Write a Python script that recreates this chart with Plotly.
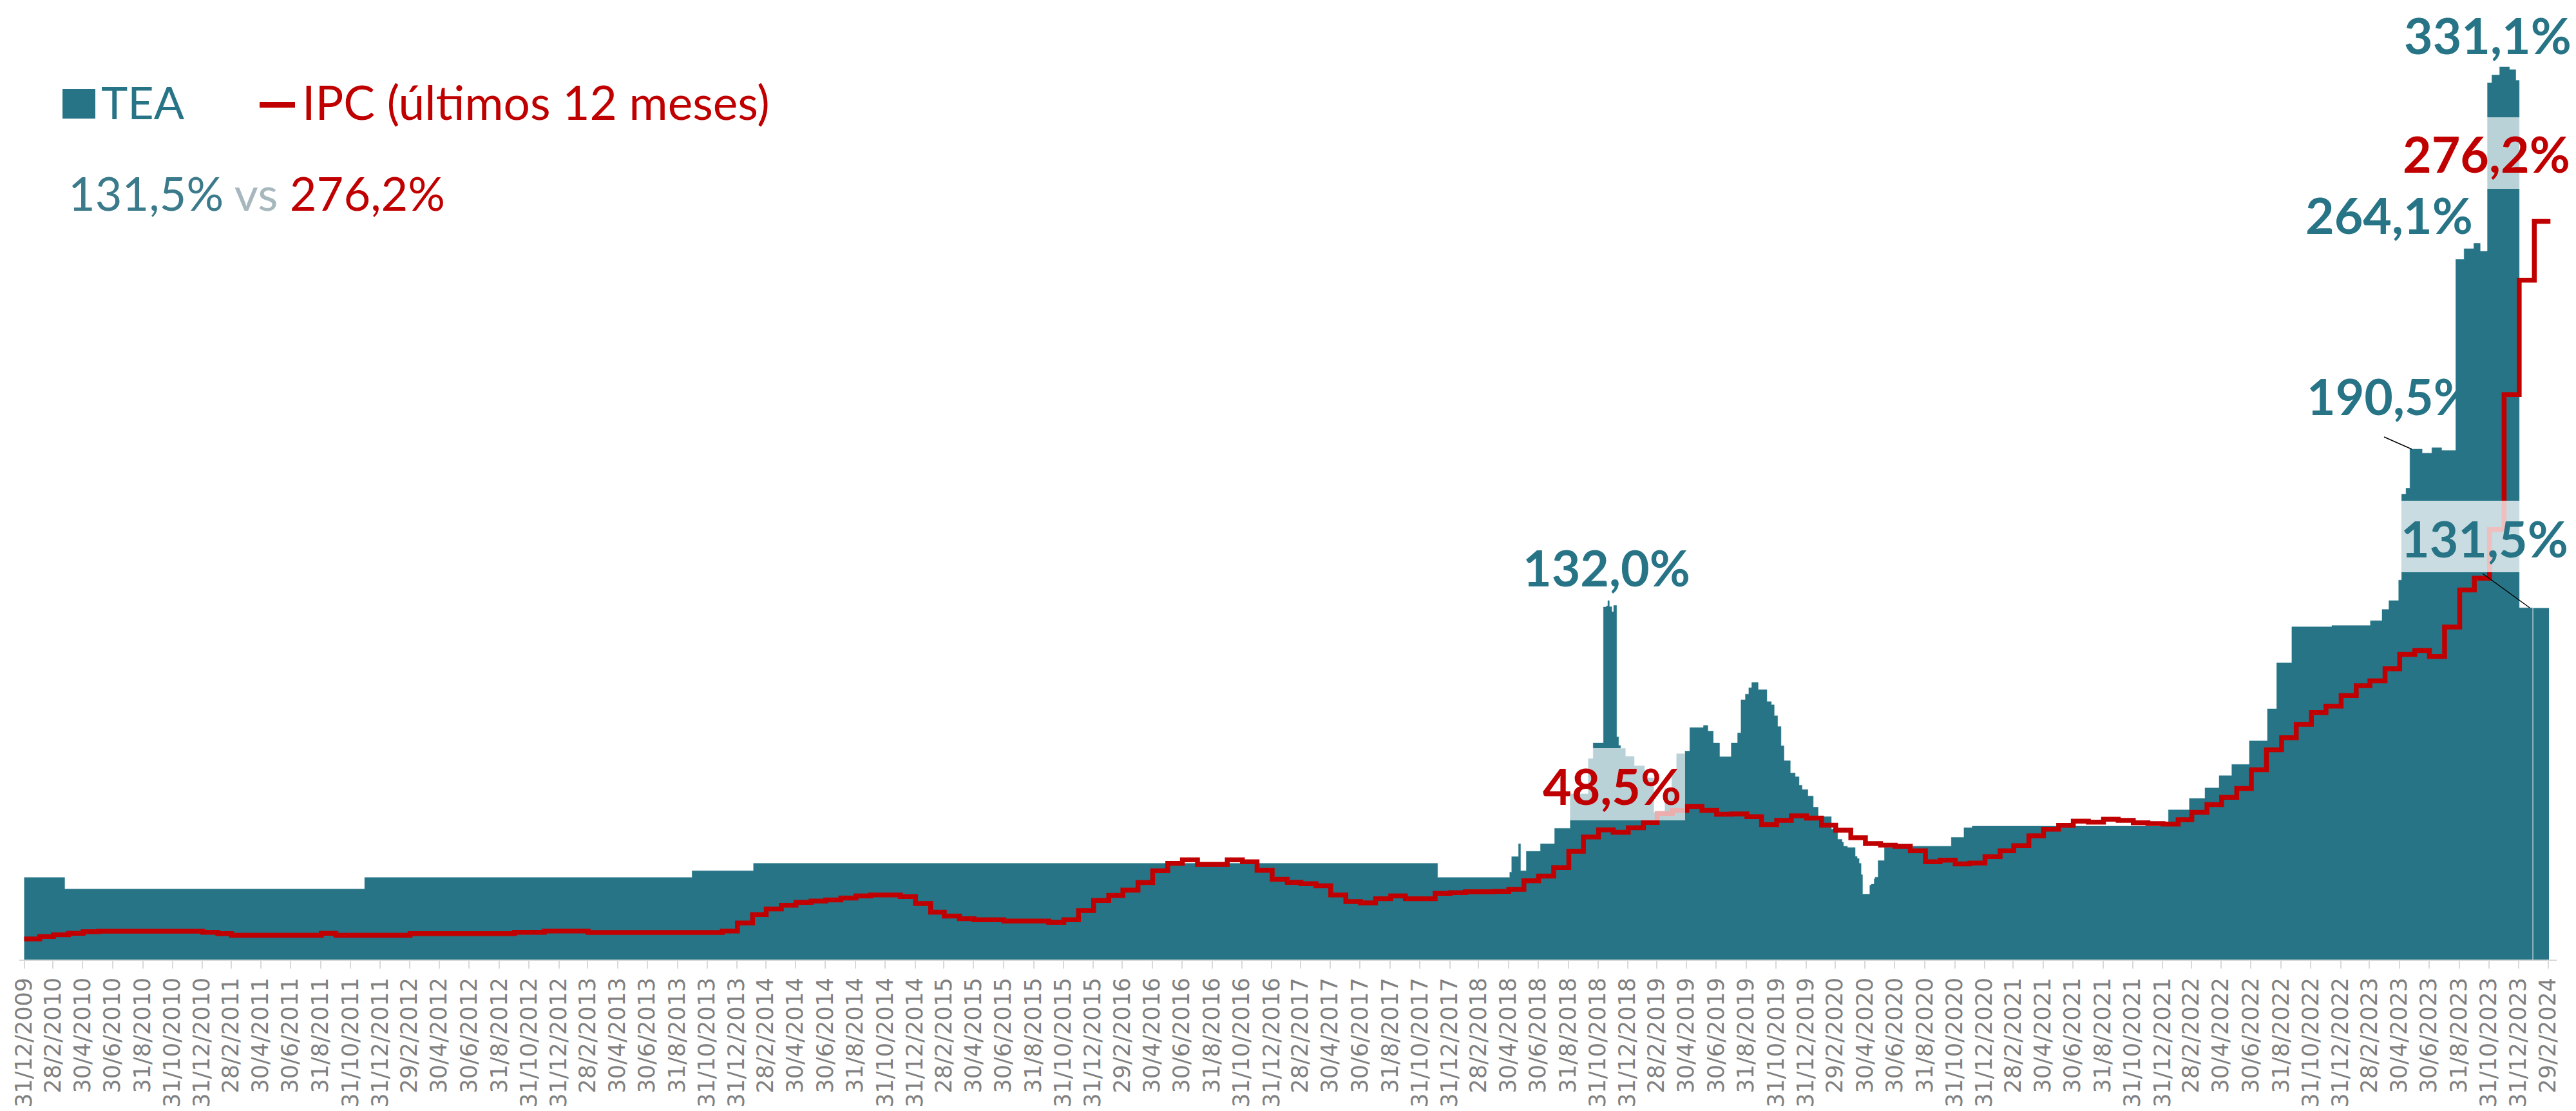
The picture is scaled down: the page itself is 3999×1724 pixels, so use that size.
import pandas as pd
import plotly.graph_objects as go

TEAL = "#267486"
TEAL_SOFT = "#3b7a8a"
RED = "#c00000"
GREY_TXT = "#808080"
GREY_AXIS = "#d9d9d9"

# TEA diaria, tomada como escalones (fecha de cambio, valor %)
TEA_FECHAS = [
    "2009-12-31", "2010-03-24", "2011-11-29", "2013-09-30", "2014-02-03",
    "2017-12-06", "2018-05-03", "2018-05-07", "2018-05-21", "2018-05-25",
    "2018-06-06", "2018-07-05", "2018-08-03", "2018-09-04", "2018-10-11",
    "2018-10-21", "2018-11-11", "2018-11-17", "2018-11-20", "2018-11-23",
    "2018-11-28", "2018-12-02", "2018-12-08", "2018-12-12", "2018-12-16",
    "2018-12-26", "2019-01-13", "2019-02-03", "2019-02-22", "2019-03-17",
    "2019-03-31", "2019-04-10", "2019-04-27", "2019-05-07", "2019-06-04",
    "2019-06-13", "2019-06-24", "2019-07-07", "2019-07-31", "2019-08-13",
    "2019-08-20", "2019-08-29", "2019-09-05", "2019-09-11", "2019-09-24",
    "2019-10-12", "2019-10-21", "2019-10-27", "2019-11-03", "2019-11-10",
    "2019-11-16", "2019-11-29", "2019-12-09", "2019-12-17", "2019-12-23",
    "2020-01-04", "2020-01-15", "2020-01-25", "2020-02-21", "2020-03-05",
    "2020-03-14", "2020-03-17", "2020-03-25", "2020-04-10", "2020-04-14",
    "2020-04-18", "2020-04-22", "2020-04-25", "2020-05-10", "2020-05-13",
    "2020-05-19", "2020-05-21", "2020-05-27", "2020-06-09", "2020-08-06",
    "2020-10-24", "2020-11-19", "2020-12-06", "2022-01-12", "2022-02-24",
    "2022-03-28", "2022-04-26", "2022-05-22", "2022-06-27", "2022-08-03",
    "2022-08-22", "2022-09-22", "2022-12-13", "2023-03-02", "2023-03-26",
    "2023-04-09", "2023-04-29", "2023-05-05", "2023-05-14", "2023-05-22",
    "2023-06-16", "2023-07-06", "2023-07-26", "2023-08-24", "2023-09-10",
    "2023-09-30", "2023-10-13", "2023-10-28", "2023-11-06", "2023-11-22",
    "2023-12-12", "2023-12-25", "2024-01-01", "2024-01-28", "2024-01-30",
    "2024-03-02",
]
TEA_VALORES = [
    30.7, 26.4, 30.7, 33.2, 36.0,
    30.7, 32.7, 38.5, 43.3, 33.2,
    40.5, 43.3, 49.1, 62.0, 75.2,
    81.0, 131.9, 132.3, 134.3, 132.0,
    130.1, 132.5, 83.3, 80.1, 79.0,
    76.0, 72.5, 68.0, 55.0, 64.0,
    71.0, 77.0, 78.0, 86.8, 87.6,
    85.5, 81.0, 75.9, 81.0, 84.8,
    97.2, 99.3, 101.7, 103.7, 101.0,
    96.5, 95.3, 91.2, 87.2, 80.0,
    74.4, 69.8, 68.4, 65.2, 63.6,
    61.2, 57.0, 53.5, 48.8, 45.0,
    43.9, 42.4, 41.9, 38.6, 37.8,
    36.0, 31.8, 24.5, 27.8, 28.2,
    30.2, 30.8, 37.0, 41.9, 42.4,
    45.7, 49.3, 49.9, 56.0, 60.3,
    64.2, 68.8, 73.0, 81.8, 93.8,
    111.0, 124.5, 125.0, 126.8, 131.0,
    134.3, 142.0, 174.1, 176.4, 191.0,
    189.5, 191.5, 190.5, 262.0, 266.0,
    268.0, 265.0, 328.0, 331.0, 334.0,
    333.0, 329.0, 131.6, 0.0, 131.5,
    131.5,
]

# IPC interanual, un valor por mes (ene-2010 ... feb-2024)
IPC_2010 = [7.7, 8.6, 9.3, 9.8, 10.4, 10.6, 10.6, 10.6, 10.6, 10.6, 10.6, 10.6]
IPC_2011 = [10.2, 9.7, 9.1, 9.1, 9.1, 9.1, 9.1, 9.1, 9.8, 9.1, 9.1, 9.1]
IPC_2012 = [9.1, 9.1, 9.7, 9.7, 9.7, 9.7, 9.7, 9.7, 9.7, 10.2, 10.2, 10.7]
IPC_2013 = [10.7, 10.7, 10.1, 10.1, 10.1, 10.1, 10.1, 10.1, 10.1, 10.1, 10.1, 10.7]
IPC_2014 = [13.7, 16.8, 18.9, 20.3, 21.4, 21.9, 22.3, 23.0, 23.8, 24.2, 24.2, 23.6]
IPC_2015 = [21.0, 17.7, 16.3, 15.3, 14.9, 14.9, 14.4, 14.4, 14.4, 13.9, 14.9, 18.3]
IPC_2016 = [22.1, 24.0, 26.0, 28.8, 33.2, 36.0, 37.3, 35.6, 35.6, 37.3, 36.6, 33.4]
IPC_2017 = [30.0, 28.9, 28.4, 27.6, 24.2, 21.7, 21.2, 22.8, 23.8, 22.8, 22.8, 24.8]
IPC_2018 = [25.0, 25.4, 25.4, 25.5, 26.3, 29.5, 31.2, 34.4, 40.5, 45.9, 48.5, 47.6]
IPC_2019 = [49.3, 51.3, 54.7, 55.8, 57.3, 55.8, 54.4, 54.5, 53.5, 50.5, 52.1, 53.8]
IPC_2020 = [52.9, 50.3, 48.4, 45.6, 43.4, 42.8, 42.4, 40.7, 36.6, 37.2, 35.8, 36.1]
IPC_2021 = [38.5, 40.7, 42.6, 46.3, 48.8, 50.2, 51.8, 51.4, 52.5, 52.1, 51.2, 50.9]
IPC_2022 = [50.7, 52.3, 55.1, 58.0, 60.7, 64.0, 71.0, 78.5, 83.0, 88.0, 92.4, 94.8]
IPC_2023 = [98.8, 102.5, 104.3, 108.8, 114.2, 115.6, 113.4, 124.4, 138.3, 142.7, 160.9, 211.4]
IPC_2024 = [254.2, 276.2]
IPC_MESES = pd.date_range("2010-01-01", "2024-02-01", freq="MS")
IPC_INICIO = "2009-12-31"
IPC_FIN = "2024-03-05"

# ejes: fin de mes cada dos meses
TICK_FECHAS = pd.date_range("2010-01-01", "2024-03-01", freq="2MS") - pd.Timedelta(days=1)
TICK_TEXTOS = [f"{d.day}/{d.month}/{d.year}" for d in TICK_FECHAS]

ipc_valores = (IPC_2010 + IPC_2011 + IPC_2012 + IPC_2013 + IPC_2014 + IPC_2015
               + IPC_2016 + IPC_2017 + IPC_2018 + IPC_2019 + IPC_2020 + IPC_2021
               + IPC_2022 + IPC_2023 + IPC_2024)
ipc_x = [IPC_INICIO] + [d.strftime("%Y-%m-%d") for d in IPC_MESES] + [IPC_FIN]
ipc_y = [ipc_valores[0]] + ipc_valores + [ipc_valores[-1]]

W, H = 3999, 1724
L, R, T, B = 30, 30, 20, 235
PW, PH = W - L - R, H - T - B


def px(x):
    return (x - L) / PW


def py(y):
    return (H - B - y) / PH


fig = go.Figure()

# etiqueta que queda detras de las barras
fig.add_trace(go.Scatter(
    x=["2023-04-12"], y=[208.3], mode="text", text=["<b>190,5%</b>"],
    textposition="middle center",
    textfont=dict(family="Lato", size=77, color=TEAL),
    hoverinfo="skip", showlegend=False,
))

fig.add_trace(go.Scatter(
    x=TEA_FECHAS, y=TEA_VALORES, name="TEA", mode="lines",
    line=dict(shape="hv", width=0.5, color=TEAL),
    fill="tozeroy", fillcolor=TEAL, showlegend=False,
))

fig.add_trace(go.Scatter(
    x=ipc_x, y=ipc_y, name="IPC (últimos 12 meses)", mode="lines",
    line=dict(shape="hv", width=7.5, color=RED), showlegend=False,
))

big = dict(family="Lato", size=77)
labels = [
    ("331,1%", 3862, 54, TEAL),
    ("276,2%", 3860, 238, RED),
    ("264,1%", 3709, 333, TEAL),
    ("131,5%", 3857, 835, TEAL),
    ("132,0%", 2494, 880, TEAL),
    ("48,5%", 2502, 1219, RED),
]
annotations = [
    dict(x=px(x), y=py(y), xref="paper", yref="paper", text=f"<b>{t}</b>",
         showarrow=False, xanchor="center", yanchor="middle",
         font=dict(color=c, **big))
    for t, x, y, c in labels
]
annotations += [
    dict(x=px(155), y=py(158), xref="paper", yref="paper", text="TEA",
         showarrow=False, xanchor="left", yanchor="middle",
         font=dict(family="Lato", size=70, color=TEAL)),
    dict(x=px(467), y=py(158), xref="paper", yref="paper",
         text="IPC (últimos 12 meses)", showarrow=False, xanchor="left",
         yanchor="middle", font=dict(family="Lato", size=73, color=RED)),
    dict(x=px(104), y=py(299), xref="paper", yref="paper",
         text=(f"<span style='color:{TEAL_SOFT}'>131,5%</span> "
               "<span style='color:#a6b8bd'>vs</span> "
               f"<span style='color:{RED}'>276,2%</span>"),
         showarrow=False, xanchor="left", yanchor="middle",
         font=dict(family="Lato", size=72)),
]


def box(x0, x1, y0, y1, alpha):
    return dict(type="rect", xref="paper", yref="paper", layer="above",
                x0=px(x0), x1=px(x1), y0=py(y1), y1=py(y0),
                fillcolor=f"rgba(255,255,255,{alpha})", line=dict(width=0))


def leader(x0, y0, x1, y1):
    return dict(type="line", xref="paper", yref="paper", layer="above",
                x0=px(x0), y0=py(y0), x1=px(x1), y1=py(y1),
                line=dict(color="#000000", width=1.5))


shapes = [
    dict(type="rect", xref="paper", yref="paper", x0=px(97), x1=px(148),
         y0=py(184), y1=py(138), fillcolor=TEAL, line=dict(width=0)),
    dict(type="rect", xref="paper", yref="paper", x0=px(403), x1=px(458),
         y0=py(167), y1=py(158), fillcolor=RED, line=dict(width=0)),
    box(3728, 3995, 182, 293, 0.68),
    box(3728, 3987, 777, 888, 0.75),
    box(2388, 2616, 1161, 1273, 0.68),
    leader(3701, 678, 3744, 697),
    leader(3854, 890, 3927, 943),
]

fig.update_layout(
    width=W, height=H,
    margin=dict(l=L, r=R, t=T, b=B, autoexpand=False),
    paper_bgcolor="white", plot_bgcolor="white",
    showlegend=False,
    annotations=annotations,
    shapes=shapes,
    xaxis=dict(
        type="date", range=["2009-12-21 02:24", "2024-03-17 19:00"],
        tickmode="array", tickvals=list(TICK_FECHAS), ticktext=TICK_TEXTOS,
        tickangle=-90, ticks="outside", ticklen=12, tickwidth=2,
        tickcolor=GREY_AXIS, showline=True, linecolor=GREY_AXIS, linewidth=2,
        showgrid=False, zeroline=False, automargin=False,
        tickfont=dict(family="DejaVu Sans", size=35, color=GREY_TXT),
    ),
    yaxis=dict(range=[0, PH / 4.147], visible=False, showgrid=False,
               zeroline=False, automargin=False),
)

fig.write_html("out.html", config={"displayModeBar": False},
               post_script="document.body.style.margin='0';")
